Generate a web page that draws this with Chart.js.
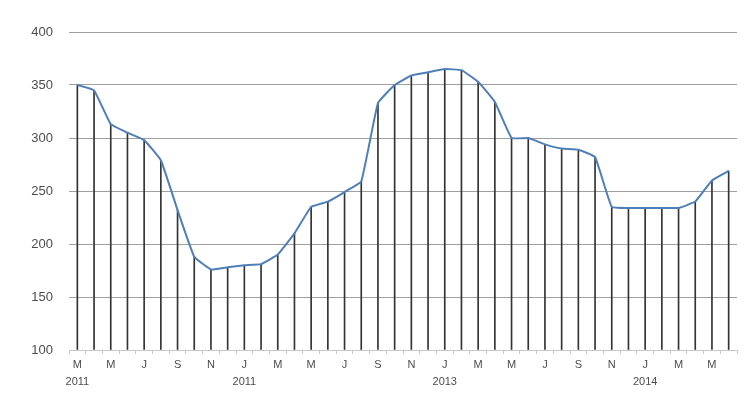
<!DOCTYPE html>
<html>
<head>
<meta charset="utf-8">
<script src="https://cdn.jsdelivr.net/npm/chart.js@4/dist/chart.umd.min.js"></script>
<style>
  html, body { margin: 0; padding: 0; background: #ffffff; }
  #wrap { width: 752px; height: 398px; }
</style>
</head>
<body>
<div id="wrap"><canvas id="c" width="752" height="398"></canvas></div>
<script>
// Monthly series, March 2011 to June 2014
const monthLetters = [
  'M','A','M','J','J','A','S','O','N','D',
  'J','F','M','A','M','J','J','A','S','O','N','D',
  'J','F','M','A','M','J','J','A','S','O','N','D',
  'J','F','M','A','M','J'
];
// Year caption shown under the first label of each year block
const yearLabels = {0: '2011', 10: '2011', 22: '2013', 34: '2014'};
const values = [
  350, 345, 313, 305, 298, 279, 232, 188, 176, 178,
  180, 181, 190, 210, 235, 240, 249, 259, 333, 350,
  359, 362, 365, 364, 353, 334, 300, 300, 294, 290,
  289, 282, 235, 234, 234, 234, 234, 240, 260, 269
];
const yTicks = [100, 150, 200, 250, 300, 350, 400];

const labels = monthLetters.map((m, i) => yearLabels[i] ? [m, yearLabels[i]] : [m]);

new Chart(document.getElementById('c'), {
  type: 'bar',
  data: {
    labels: labels,
    datasets: [
      {
        type: 'line',
        data: values,
        borderColor: '#4f7fb8',
        borderWidth: 2,
        pointRadius: 0,
        tension: 0.1,
        fill: false,
        order: 0
      },
      {
        // drop lines from each point to the axis
        type: 'bar',
        data: values,
        base: 100,
        backgroundColor: '#333333',
        barThickness: 1,
        order: 1
      }
    ]
  },
  options: {
    responsive: false,
    animation: false,
    devicePixelRatio: 1,
    layout: { padding: { top: 32, right: 15, left: 0, bottom: 0 } },
    plugins: { legend: { display: false }, tooltip: { enabled: false } },
    scales: {
      x: {
        offset: true,
        border: { display: true, color: '#c8c8c8', width: 1 },
        grid: {
          offset: true,
          drawOnChartArea: false,
          drawTicks: true,
          tickLength: 4,
          color: '#c8c8c8'
        },
        ticks: {
          autoSkip: false,
          maxRotation: 0,
          padding: 3,
          color: '#4d4d4d',
          font: { family: 'Liberation Sans', size: 11, lineHeight: 1.5 },
          callback: function (val, i) { return i % 2 === 0 ? labels[i] : ''; }
        },
        afterFit: function (scale) { scale.height = 48; }
      },
      y: {
        min: 100,
        max: 400,
        afterBuildTicks: function (scale) { scale.ticks = yTicks.map(v => ({ value: v })); },
        border: { display: false },
        grid: { color: '#a0a0a0', lineWidth: 1, drawTicks: false },
        ticks: {
          padding: 16,
          color: '#4d4d4d',
          font: { family: 'Liberation Sans', size: 13 }
        },
        afterFit: function (scale) { scale.width = 69; }
      }
    }
  }
});
</script>
</body>
</html>
